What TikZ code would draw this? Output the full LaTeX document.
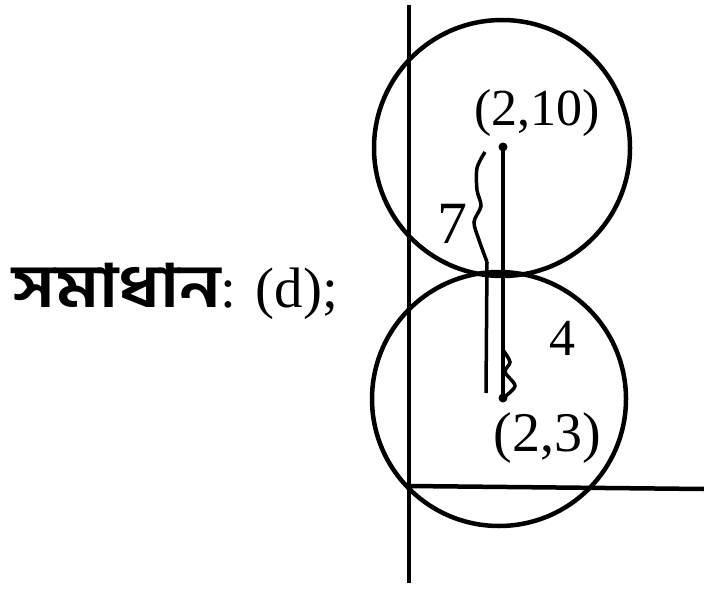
\documentclass[tikz,border=0pt]{standalone}
\usepackage{fontspec}
\setmainfont{Liberation Serif}
\newfontfamily\bngfont[Script=Bengali]{Hind Siliguri}
\usetikzlibrary{positioning}

\tikzset{
  lbl/.style={inner sep=0pt},
  dotmark/.style={fill=black,circle,inner sep=0pt,minimum size=9pt}
}

\begin{document}
\begin{tikzpicture}[x=1pt,y=-1pt,line width=4.5pt]
        \useasboundingbox (0,0) rectangle (704,591);

        % Axes
        \coordinate (ytop) at (409,5);
        \coordinate (ybot) at (409,583);
        \coordinate (O) at (409,486);
        \coordinate (xend) at (704,489);
        \draw (ytop) -- (ybot);
        \draw (O) -- (xend);

        % Circles
        \coordinate (C1) at (502,148);
        \coordinate (C2) at (499,399);
        \draw (C1) circle[radius=128];
        \draw (C2) circle[radius=127];

        % Centres
        \node[dotmark] (A) at (503,147) {};
        \node[dotmark] (B) at (503,398) {};
        \draw[line width=4pt] (A.center) -- (B.center);

        % Braces
        \coordinate (b7top) at (485,152);
        \coordinate (b7mid) at (487,262);
        \coordinate (b7bot) at (486,393);
        \draw[line width=3.5pt] plot[smooth] coordinates {(b7top) (477,168) (477,190) (481,206) (474,222) (479,240) (b7mid)};
        \draw[line width=3.5pt] (b7mid) -- (b7bot);
        \draw[line width=3.5pt] plot[smooth] coordinates {(503,350) (510,362) (505,372) (515,386) (B)};

        % Labels
        \node[lbl,font=\fontsize{52}{56}\selectfont] (lA) at (537,113) {(2,10)};
        \node[lbl,font=\fontsize{56}{60}\selectfont] (lB) at (547,438) {(2,3)};
        \node[lbl,font=\fontsize{60}{64}\selectfont] (l7) at (452,224) {7};
        \node[lbl,font=\fontsize{52}{56}\selectfont] (l4) at (562,338) {4};

        % Answer
        \node[lbl,anchor=base west,font=\fontsize{57}{62}\selectfont] (ans) at (10,307)
            {\scalebox{1.25}[1.05]{\bngfont\bfseries সমাধান}: (d);};
    \end{tikzpicture}
\end{document}
